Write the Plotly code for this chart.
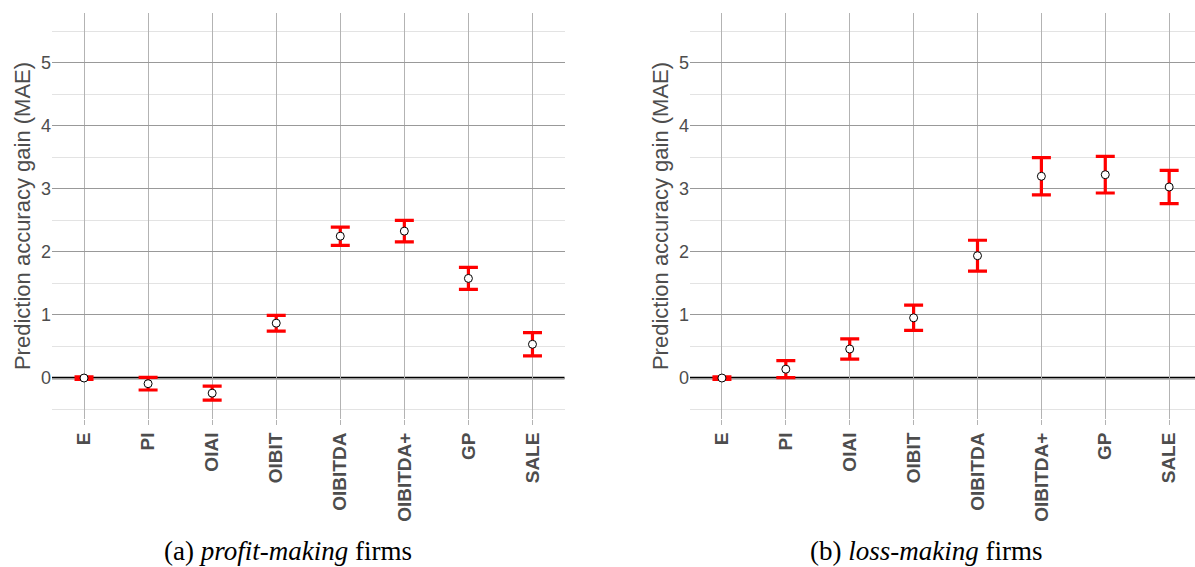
import plotly.graph_objects as go

categories = ["E", "PI", "OIAI", "OIBIT", "OIBITDA", "OIBITDA+", "GP", "SALE"]

profit_gain = [0.0, -0.09, -0.24, 0.87, 2.25, 2.33, 1.58, 0.535]
profit_err = [0.02, 0.10, 0.11, 0.125, 0.145, 0.17, 0.175, 0.185]

loss_gain = [0.0, 0.14, 0.46, 0.955, 1.94, 3.20, 3.225, 3.03]
loss_err = [0.02, 0.135, 0.16, 0.20, 0.245, 0.295, 0.29, 0.265]

y_title = "Prediction accuracy gain (MAE)"
captions = ["(a) <i>profit-making</i> firms", "(b) <i>loss-making</i> firms"]

W, H = 1195, 567
fig = go.Figure()

panels = [
    ("x", "y", profit_gain, profit_err),
    ("x2", "y2", loss_gain, loss_err),
]
for xa, ya, vals, errs in panels:
    fig.add_trace(go.Scatter(
        x=categories, y=vals, xaxis=xa, yaxis=ya, mode="markers",
        marker=dict(size=8, color="white", line=dict(color="black", width=1)),
        error_y=dict(type="data", array=errs, visible=True, color="#ff0000",
                     thickness=3.2, width=9.5),
        showlegend=False, cliponaxis=False,
    ))

xdom1 = [52 / W, 564.5 / W]
xdom2 = [690 / W, 1.0]
ydom = [1 - 419 / H, 1 - 13 / H]
yrange = [-0.65, 5.79]
n = len(categories)

common_x = dict(
    type="category", showgrid=True, gridcolor="#b3b3b3", gridwidth=1,
    ticks="outside", ticklen=5, tickwidth=1, tickcolor="#b3b3b3",
    tickangle=-90, showline=False, zeroline=False,
    tickfont=dict(family="Liberation Sans", size=19, color="#4d4d4d", weight="bold"),
)
common_y = dict(
    range=yrange, showgrid=True, gridcolor="#999999", gridwidth=1,
    tickvals=[0, 1, 2, 3, 4, 5], ticks="", showline=False, zeroline=False,
    minor=dict(tickvals=[-0.5, 0.5, 1.5, 2.5, 3.5, 4.5, 5.5], showgrid=True,
               gridcolor="#e3e3e3", gridwidth=1),
    tickfont=dict(family="Liberation Sans", size=18, color="#4d4d4d"),
    title=dict(text=y_title, font=dict(family="Liberation Sans", size=22, color="#4d4d4d"),
               standoff=4),
)

fig.update_layout(
    width=W, height=H, margin=dict(l=0, r=0, t=0, b=0),
    paper_bgcolor="white", plot_bgcolor="white",
    xaxis=dict(domain=xdom1, range=[-0.5, n - 0.5], anchor="y", **common_x),
    xaxis2=dict(domain=xdom2, range=[-0.5, (1195 - 722.6) / 63.8], anchor="y2", **common_x),
    yaxis=dict(domain=ydom, anchor="x", **common_y),
    yaxis2=dict(domain=ydom, anchor="x2", **common_y),
)

shapes = []
for xr, yr in [("x", "y"), ("x2", "y2")]:
    for i in range(n):
        shapes.append(dict(type="line", xref=xr, yref=yr + " domain",
                           x0=i + 0.5, x1=i + 0.5, y0=0, y1=1,
                           line=dict(color="white", width=1.2), layer="below"))
    shapes.append(dict(type="line", xref=xr + " domain", yref=yr,
                       x0=0, x1=1, y0=0, y1=0,
                       line=dict(color="black", width=2.6), layer="below"))
fig.update_layout(shapes=shapes)

for cap, cx in zip(captions, [288, 926]):
    fig.add_annotation(text=cap, xref="paper", yref="paper", x=cx / W, y=1 - 551 / H,
                       showarrow=False, xanchor="center", yanchor="middle",
                       font=dict(family="Liberation Serif", size=27, color="black"))

fig.write_html("out.html", config={"displayModeBar": False},
               post_script="document.body.style.margin='0';document.body.style.overflow='hidden';")
